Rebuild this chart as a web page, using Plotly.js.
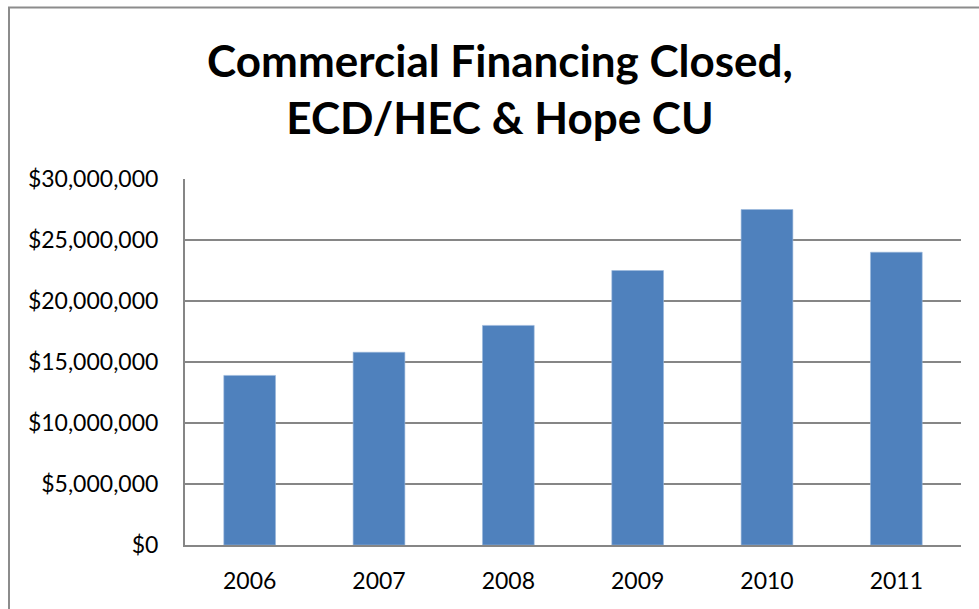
<!DOCTYPE html>
<html>
<head>
<meta charset="utf-8">
<script src="https://cdn.plot.ly/plotly-3.0.1.min.js"></script>
<style>html,body{margin:0;padding:0;background:#fff;}#chart{width:979px;height:609px;}</style>
</head>
<body>
<div id="chart"></div>
<script>
var years = ["2006", "2007", "2008", "2009", "2010", "2011"];
var financingClosed = [13900000, 15800000, 18000000, 22500000, 27500000, 24000000];
var titleLines = ["Commercial Financing Closed,", "ECD/HEC &amp; Hope CU"];

var trace = {
  type: "bar",
  x: years,
  y: financingClosed,
  marker: {color: "#4F81BD", line: {color: "#9bb7dc", width: 0.6}},
  hoverinfo: "x+y"
};

var layout = {
  width: 979,
  height: 609,
  margin: {l: 185, r: 18, t: 179, b: 64, pad: 0},
  paper_bgcolor: "#ffffff",
  plot_bgcolor: "#ffffff",
  showlegend: false,
  bargap: 0.6,
  font: {family: "Lato, 'Open Sans', sans-serif", color: "#000000"},
  title: {
    text: titleLines.join("<br>"),
    font: {family: "Lato, 'Open Sans', sans-serif", size: 44, color: "#000000", weight: "bold"},
    x: 500 / 979, xref: "container", xanchor: "center",
    y: 1 - 77 / 609, yref: "container", yanchor: "top"
  },
  xaxis: {
    type: "category",
    showgrid: false,
    showline: true,
    linecolor: "#868686",
    linewidth: 2,
    ticks: "",
    tickfont: {size: 23, color: "#000000"},
    ticklabelstandoff: 14,
    zeroline: false
  },
  yaxis: {
    range: [0, 30000000],
    dtick: 5000000,
    tick0: 0,
    tickformat: "$,.0f",
    showgrid: true,
    gridcolor: "#868686",
    gridwidth: 2,
    showline: true,
    linecolor: "#868686",
    linewidth: 2,
    ticks: "",
    tickfont: {size: 23, color: "#000000"},
    ticklabelstandoff: 20,
    zeroline: false
  },
  shapes: [{
    type: "rect", xref: "paper", yref: "paper",
    x0: (9 - 185) / 776, x1: 1.2,
    y0: -0.5, y1: (545 - 7.5) / 366,
    line: {color: "#8c8c8c", width: 2},
    fillcolor: "rgba(0,0,0,0)",
    layer: "below"
  }]
};

Plotly.newPlot("chart", [trace], layout, {displayModeBar: false, staticPlot: true});
</script>
</body>
</html>
